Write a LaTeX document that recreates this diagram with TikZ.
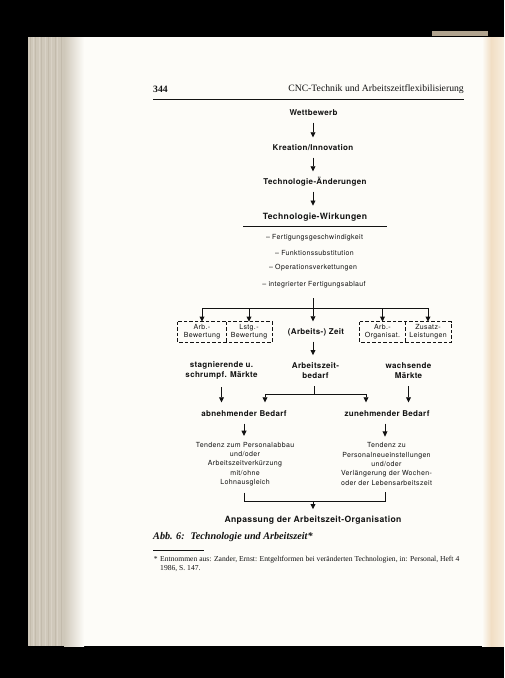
\documentclass[tikz,border=0pt]{standalone}
\usepackage{fontspec}
\setmainfont{Liberation Serif}
\newfontfamily\hv[LetterSpace=4]{TeX Gyre Heros}
\newfontfamily\hvs[LetterSpace=5]{TeX Gyre Heros}
\usetikzlibrary{arrows.meta}
\definecolor{ink}{HTML}{121212}
\definecolor{page}{HTML}{FDFCF8}
\definecolor{edge}{HTML}{CFC8BA}
\definecolor{edgeD}{HTML}{C3BBAC}
\definecolor{edgeL}{HTML}{D9D2C6}
\definecolor{peach}{HTML}{F1DEC4}
\definecolor{cream}{HTML}{F8EEDF}
\definecolor{strip}{HTML}{B0A38E}
\tikzset{
  bf/.style={font=\hv\bfseries\fontsize{8}{10}\selectfont, text=ink, inner sep=0pt, text height=6pt, text depth=1.7pt},
  bfm/.style={font=\hv\bfseries\fontsize{8}{10}\selectfont, text=ink, inner sep=0pt, align=center},
  bfl/.style={font=\hv\bfseries\fontsize{8.6}{10}\selectfont, text=ink, inner sep=0pt, text height=6.4pt, text depth=1.8pt},
  sm/.style={font=\hvs\fontsize{7}{9.3}\selectfont, text=ink, inner sep=0pt, align=center},
  boxlbl/.style={font=\hvs\fontsize{7}{8}\selectfont, text=ink, inner sep=0pt, align=center, minimum height=20pt},
  hd/.style={font=\fontsize{9.7}{12}\selectfont, text=ink, inner sep=0pt},
  ln/.style={draw=ink, line width=0.9pt},
  arr/.style={draw=ink, line width=0.9pt, -{Triangle[length=5.2pt,width=4.8pt]}},
  arrv/.style={arr, shorten <=5pt, shorten >=7pt},
  dbox/.style={draw=ink, line width=0.8pt, dash pattern=on 3.5pt off 2pt},
}
\begin{document}
\begin{tikzpicture}[x=1pt,y=-1pt]
\useasboundingbox (0,0) rectangle (504,678);
\fill[black] (0,0) rectangle (504,678);
\fill[page] (28,37) rectangle (504,646);
% left page edges
\fill[edge] (28,37) rectangle (64,646);
\foreach \x/\c in {30/edgeD,32.5/edgeL,35/edgeD,38.5/edgeL,41/edgeD,44.5/edgeL,48/edgeD,51/edgeL,54.5/edgeD,57/edgeL,60.5/edgeD}
  \fill[\c] (\x,37) rectangle ++(0.9,609);
\shade[left color=edge, right color=page] (64,37) rectangle (84,646);
% right edge
\shade[left color=page, right color=peach] (482,37) rectangle (491,646);
\shade[left color=peach, right color=cream] (491,37) rectangle (504,646);
\fill[strip] (432,31) rectangle (488,35.5);

% header
\node[hd, anchor=west] (pg) at (153,89.5) {\bfseries 344};
\node[hd, anchor=east] (ht) at (464,89.5) {CNC-Technik und Arbeitszeitflexibilisierung};
\draw[ink, line width=0.8pt] (pg.west |- 0,99.5) -- (ht.east |- 0,99.5);

% main column
\node[bf] (wett) at (313.5,113.5) {Wettbewerb};
\node[bf] (krea) at (313,148.5) {Kreation/Innovation};
\node[bf] (aend) at (315,182.5) {Technologie-Änderungen};
\node[bfl] (wirk) at (315,217) {Technologie-Wirkungen};
\draw[arrv] (wett.south -| 313,0) -- (krea.north -| 313,0);
\draw[arrv] (krea.south -| 313,0) -- (aend.north -| 313,0);
\draw[arrv] (aend.south -| 313,0) -- (wirk.north -| 313,0);
\draw[ln] (243,226) -- (387,226);

\node[sm] (i1) at (314.5,237.5) {– Fertigungsgeschwindigkeit};
\node[sm] (i2) at (314.5,252.5) {– Funktionssubstitution};
\node[sm] (i3) at (313,268) {– Operationsverkettungen};
\node[sm] (i4) at (314,284.5) {– integrierter Fertigungsablauf};

% boxes
\node[boxlbl, minimum width=48pt] (b1) at (202,332) {Arb.-\\Bewertung};
\node[boxlbl, minimum width=46pt] (b2) at (249,332) {Lstg.-\\Bewertung};
\node[boxlbl, minimum width=45pt] (b3) at (382.5,332) {Arb.-\\Organisat.};
\node[boxlbl, minimum width=46pt] (b4) at (428,332) {Zusatz-\\Leistungen};
\draw[dbox] (b1.north west) rectangle (b2.south east);
\draw[dbox] (b1.north east) -- (b1.south east);
\draw[dbox] (b3.north west) rectangle (b4.south east);
\draw[dbox] (b3.north east) -- (b3.south east);
\node[bf] (zeit) at (316,332.5) {(Arbeits-) Zeit};

\coordinate (jb) at (313,308);
\draw[ln, shorten <=10pt] (i4.south -| jb) -- (jb);
\draw[ln] (jb -| b1) -- (jb -| b4);
\draw[arr] (jb -| b1) -- (b1.north);
\draw[arr] (jb -| b2) -- (b2.north);
\draw[arr, shorten >=7pt] (jb) -- (jb |- zeit.north);
\draw[arr] (jb -| b3) -- (b3.north);
\draw[arr] (jb -| b4) -- (b4.north);

% middle row
\node[bfm] (stag) at (221.5,370.5) {stagnierende u.\\schrumpf. Märkte};
\node[bfm] (bedarf) at (315.5,370.5) {Arbeitszeit-\\bedarf};
\node[bfm] (wachs) at (408.5,370.5) {wachsende\\Märkte};
\draw[arrv] (zeit.south -| jb) -- (bedarf.north -| jb);

\node[bf] (abn) at (244,414.5) {abnehmender Bedarf};
\node[bf] (zun) at (387,414.5) {zunehmender Bedarf};

\coordinate (jm) at (314,394);
\coordinate (jl) at (265,394);
\coordinate (jr) at (366,394);
\draw[ln, shorten <=7.5pt] (bedarf.south -| jm) -- (jm);
\draw[ln] (jl) -- (jr);
\draw[arr, shorten >=8pt] (jl) -- (jl |- abn.north);
\draw[arr, shorten >=8pt] (jr) -- (jr |- zun.north);
\draw[arr, shorten <=7.5pt, shorten >=8pt] (stag.south) -- (stag.south |- abn.north);
\draw[arr, shorten <=7.5pt, shorten >=8pt] (wachs.south) -- (wachs.south |- zun.north);

% lower blocks
\node[sm] (tl) at (245,464) {Tendenz zum Personalabbau\\und/oder\\Arbeitszeitverkürzung\\mit/ohne\\Lohnausgleich};
\node[sm] (tr) at (386.5,464) {Tendenz zu\\Personalneueinstellungen\\und/oder\\Verlängerung der Wochen-\\oder der Lebensarbeitszeit};
\draw[arr, shorten <=5pt, shorten >=6pt] (abn.south) -- (abn.south |- tl.north);
\draw[arr, shorten <=5pt, shorten >=6pt] (zun.south -| 385,0) -- (tr.north -| 385,0);

\coordinate (bl) at (244,501);
\coordinate (br) at (385,501);
\coordinate (bm) at (313,501);
\draw[ln, shorten <=6.5pt, shorten >=6.5pt] (tl.south -| bl) -- (bl) -- (br) -- (tr.south -| br);
\node[bfl] (anp) at (313,520.5) {Anpassung der Arbeitszeit-Organisation};
\draw[arr, shorten >=7pt] (bm) -- (anp.north -| bm);

% caption and footnote
\node[font=\bfseries\itshape\fontsize{10.2}{12}\selectfont, text=ink, inner sep=0pt, anchor=west] (cap) at (153,537) {Abb. 6: \ Technologie und Arbeitszeit*};
\coordinate (fr) at (204,550);
\draw[ink, line width=0.6pt] (cap.west |- fr) -- (fr);
\node[font=\fontsize{7.6}{9}\selectfont, text=ink, inner sep=0pt, anchor=north west, align=left] (fn) at (160,556)
  {\llap{*\hspace{2.5pt}}Entnommen aus: Zander, Ernst: Entgeltformen bei veränderten Technologien, in: Personal, Heft 4\\1986, S. 147.};
\end{tikzpicture}
\end{document}
